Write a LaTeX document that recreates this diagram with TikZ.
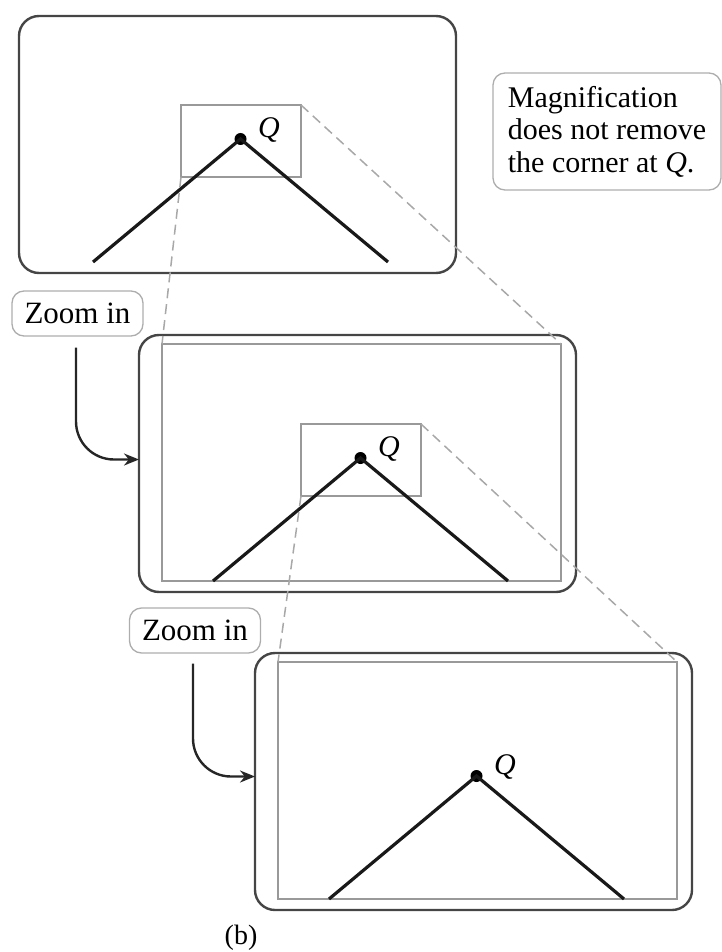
\documentclass[tikz,border=0pt]{standalone}
\usepackage{fontspec}
\setmainfont{Liberation Serif}
\usetikzlibrary{arrows.meta}
\definecolor{framegray}{gray}{0.27}
\definecolor{rectgray}{gray}{0.60}
\definecolor{dashgray}{gray}{0.66}
\definecolor{labelgray}{gray}{0.68}
\tikzset{
  panel/.style={draw=framegray, line width=2.4pt, rounded corners=20pt, minimum width=437pt, minimum height=257pt, inner sep=0pt, outer sep=0pt},
  innerrect/.style={draw=rectgray, line width=1.5pt, minimum width=399pt, minimum height=237pt, inner sep=0pt, outer sep=0pt},
  zoomrect/.style={draw=rectgray, line width=1.5pt, minimum width=120pt, minimum height=72pt, inner sep=0pt, outer sep=0pt},
  corner/.style={line width=3.2pt, black!90},
  cornerdot/.style={circle, fill=black, minimum size=12pt, inner sep=0pt},
  qlabel/.style={font=\fontsize{30}{30}\selectfont\itshape, inner sep=0pt},
  tag/.style={draw=labelgray, line width=1.3pt, rounded corners=12pt, inner sep=0pt, text=black},
  zoomline/.style={dashgray, line width=1.5pt, dash pattern=on 10pt off 6pt},
  flow/.style={line width=2.4pt, black!85, rounded corners=38pt, -{Stealth[length=15pt,width=12pt]}},
}
\begin{document}
\begin{tikzpicture}[x=1pt,y=-1pt]
\useasboundingbox (0,0) rectangle (722,952);
% panel 1
\begin{scope}[shift={(19,16)}]
  \node[panel] (p1) at (218.5,128.5) {};
  \node[zoomrect] (s1) at (222,125) {};
  \coordinate (l1) at (74,246);
  \coordinate (r1) at (369,246);
  \node[cornerdot] (c1) at (221.5,123) {};
  \draw[corner] (l1) -- (c1.center) -- (r1);
  \node[qlabel] (q1) at (250,114) {Q};
\end{scope}
% panel 2
\begin{scope}[shift={(139,335)}]
  \node[panel] (p2) at (218.5,128.5) {};
  \node[innerrect] (i2) at (222.5,127.5) {};
  \node[zoomrect] (s2) at (222,125) {};
  \coordinate (l2) at (74,246);
  \coordinate (r2) at (369,246);
  \node[cornerdot] (c2) at (221.5,123) {};
  \draw[corner] (l2) -- (c2.center) -- (r2);
  \node[qlabel] (q2) at (250,114) {Q};
\end{scope}
% panel 3
\begin{scope}[shift={(255,653)}]
  \node[panel] (p3) at (218.5,128.5) {};
  \node[innerrect] (i3) at (222.5,127.5) {};
  \coordinate (l3) at (74,246);
  \coordinate (r3) at (369,246);
  \node[cornerdot] (c3) at (221.5,123) {};
  \draw[corner] (l3) -- (c3.center) -- (r3);
  \node[qlabel] (q3) at (250,114) {Q};
\end{scope}
% zoom projection lines
\draw[zoomline] (s1.south west) -- (i2.north west);
\draw[zoomline] (s1.north east) -- (i2.north east);
\draw[zoomline] (s2.south west) -- (i3.north west);
\draw[zoomline] (s2.north east) -- (i3.north east);
% labels
\node[tag, minimum width=131pt, minimum height=45pt, font=\fontsize{31}{31}\selectfont] (z1) at (77.5,313.5) {Zoom in};
\node[tag, minimum width=131pt, minimum height=45pt, font=\fontsize{31}{31}\selectfont] (z2) at (195,630.5) {Zoom in};
\draw[flow] ([xshift=-1.5pt,yshift=-11pt]z1.south) |- ([yshift=4pt]p2.west);
\draw[flow] ([xshift=-2pt,yshift=-10pt]z2.south) |- ([yshift=5pt]p3.west);
\node[tag, align=left, minimum width=228pt, minimum height=117pt, font=\fontsize{30}{32.5}\selectfont] (note) at (607,131.5) {Magnification\\does not remove\\the corner at \textit{Q}.};
\node[font=\fontsize{28}{28}\selectfont, inner sep=0pt] (cap) at (241,938) {(b)};
\end{tikzpicture}
\end{document}
